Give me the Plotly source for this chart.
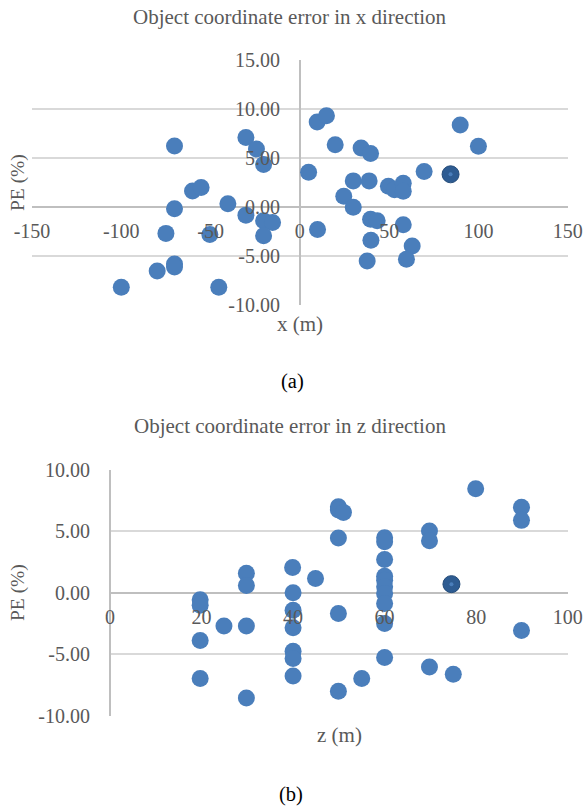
import plotly.graph_objects as go

# ---------------- data ----------------
# (a) Object coordinate error in x direction
x_a = [-70.2, -30.2, -24.3, -20.3, -60.1, -55.3, -40.3, -70.2, -30.2, -20.3,
       -15.3, -20.3, -75.0, -50.4, -79.9, -70.2, -70.2, -100.0, -45.4,
       9.7, 14.9, 19.8, 34.3, 39.6, 4.9, 29.9, 38.8, 24.6, 29.9,
       49.6, 53.0, 57.9, 57.9, 69.6, 89.8, 100.0, 9.9, 39.6, 43.3,
       57.9, 39.8, 62.9, 37.7, 59.7]
pe_a = [6.24, 7.11, 5.93, 4.34, 1.66, 2.00, 0.34, -0.17, -0.81, -1.39,
        -1.55, -2.91, -2.67, -2.78, -6.50, -5.80, -6.10, -8.16, -8.16,
        8.68, 9.32, 6.37, 6.04, 5.46, 3.56, 2.68, 2.68, 1.12, 0.00,
        2.14, 1.77, 2.44, 1.63, 3.63, 8.37, 6.20, -2.27, -1.22, -1.39,
        -1.79, -3.38, -3.96, -5.49, -5.31]
x_a_hl = [84.4]
pe_a_hl = [3.35]

# (b) Object coordinate error in z direction
z_b = [19.7, 19.7, 19.7, 19.7, 24.9, 29.8, 29.8, 29.8, 29.8,
       39.9, 40.0, 40.0, 40.0, 40.0, 40.0, 40.0,
       44.9, 49.9, 49.9, 51.0, 49.9, 49.9, 49.9, 55.0,
       60.0, 60.0, 60.0, 60.0, 60.0, 60.0, 60.0, 60.0, 60.0, 60.0,
       69.8, 69.8, 69.8, 75.0, 79.9, 89.9, 89.9, 89.9]
pe_b = [-0.57, -1.00, -3.88, -6.98, -2.69, 1.60, 0.60, -2.69, -8.56,
        2.07, 0.00, -1.41, -2.85, -4.75, -5.35, -6.76,
        1.17, 7.00, 6.74, 6.55, 4.46, -1.68, -8.01, -6.98,
        4.48, 4.16, 2.72, 1.36, 1.03, 0.49, -0.05, -0.87, -2.50, -5.27,
        5.03, 4.24, -6.03, -6.63, 8.48, 6.96, 5.90, -3.07]
z_b_hl = [74.6]
pe_b_hl = [0.71]

# tick labels
xa_ticks = [-150, -100, -50, 0, 50, 100, 150]
xa_text = ["-150", "-100", "-50", "0", "50", "100", "150"]
ya_ticks = [-10, -5, 0, 5, 10, 15]
ya_text = ["-10.00", "-5.00", "0.00", "5.00", "10.00", "15.00"]
xb_ticks = [0, 20, 40, 60, 80, 100]
xb_text = ["0", "20", "40", "60", "80", "100"]
yb_ticks = [-10, -5, 0, 5, 10]
yb_text = ["-10.00", "-5.00", "0.00", "5.00", "10.00"]

title_a = "Object coordinate error in x direction"
title_b = "Object coordinate error in z direction"

# ---------------- layout helpers ----------------
W, H = 585, 806
FONT = "Liberation Serif, Times New Roman, DejaVu Serif, serif"
GRAY = "#595959"
BLUE = "#4A7EBB"
DARK = "#2E5C92"


def px_x(p):
    return p / W


def px_y(p):
    return 1 - p / H


fig = go.Figure()

MS = 17
mk = dict(size=MS, color=BLUE, line=dict(width=0))
hl = dict(size=MS, color=DARK, line=dict(width=1, color="#264d7a"))
dot = dict(size=4, color=BLUE, line=dict(width=0))

fig.add_trace(go.Scatter(x=x_a, y=pe_a, mode="markers", marker=mk,
                         xaxis="x", yaxis="y", showlegend=False))
fig.add_trace(go.Scatter(x=x_a_hl, y=pe_a_hl, mode="markers", marker=hl,
                         xaxis="x", yaxis="y", showlegend=False))
fig.add_trace(go.Scatter(x=x_a_hl, y=pe_a_hl, mode="markers", marker=dot,
                         xaxis="x", yaxis="y", showlegend=False))

fig.add_trace(go.Scatter(x=z_b, y=pe_b, mode="markers", marker=mk,
                         xaxis="x2", yaxis="y2", showlegend=False))
fig.add_trace(go.Scatter(x=z_b_hl, y=pe_b_hl, mode="markers", marker=hl,
                         xaxis="x2", yaxis="y2", showlegend=False))
fig.add_trace(go.Scatter(x=z_b_hl, y=pe_b_hl, mode="markers", marker=dot,
                         xaxis="x2", yaxis="y2", showlegend=False))

tickfont = dict(family=FONT, size=20, color=GRAY)
GRID = "#d9d9d9"
AX = "#bfbfbf"

# plot areas (pixels)
a_left, a_right, a_top, a_bot = 32, 567.7, 60, 305.3
b_left, b_right, b_top, b_bot = 110, 567.7, 470, 715.7
a_y0 = 206.7
b_y0 = 592.7

XSO = 10
YSO = 20

common = dict(automargin=False, showline=False, ticks="", fixedrange=True,
              tickfont=tickfont)

fig.update_layout(
    template="none",
    width=W, height=H,
    margin=dict(l=0, r=0, t=0, b=0, pad=0),
    paper_bgcolor="white", plot_bgcolor="white",
    font=dict(family=FONT, color=GRAY),
    xaxis=dict(domain=[px_x(a_left), px_x(a_right)], range=[-150, 150],
               anchor="free", position=px_y(a_y0),
               tickvals=xa_ticks, ticktext=xa_text,
               showgrid=False, zeroline=True, zerolinecolor=AX, zerolinewidth=1.5,
               ticklabelstandoff=XSO, **common),
    yaxis=dict(domain=[px_y(a_bot), px_y(a_top)], range=[-10, 15],
               anchor="free", position=px_x(300),
               tickvals=ya_ticks, ticktext=ya_text,
               showgrid=True, gridcolor=GRID, gridwidth=1.5,
               zeroline=True, zerolinecolor=AX, zerolinewidth=1.5,
               ticklabelstandoff=YSO, **common),
    xaxis2=dict(domain=[px_x(b_left), px_x(b_right)], range=[0, 100],
                anchor="free", position=px_y(b_y0),
                tickvals=xb_ticks, ticktext=xb_text,
                showgrid=False, zeroline=True, zerolinecolor=AX, zerolinewidth=1.5,
                ticklabelstandoff=XSO, **common),
    yaxis2=dict(domain=[px_y(b_bot), px_y(b_top)], range=[-10, 10],
                anchor="free", position=px_x(b_left),
                tickvals=yb_ticks, ticktext=yb_text,
                showgrid=True, gridcolor=GRID, gridwidth=1.5,
                zeroline=True, zerolinecolor=AX, zerolinewidth=1.5,
                ticklabelstandoff=YSO, **common),
)

ann = []


def add_text(text, x, y, size, color=GRAY, angle=0):
    ann.append(dict(text=text, x=px_x(x), y=px_y(y), xref="paper", yref="paper",
                    showarrow=False, xanchor="center", yanchor="middle",
                    textangle=angle, font=dict(family=FONT, size=size, color=color)))


add_text(title_a, 290, 17, 21)
add_text(title_b, 290, 426, 21)
add_text("x (m)", 300, 324, 21)
add_text("z (m)", 339, 735, 21)
add_text("PE (%)", 18, 183, 19.5, angle=-90)
add_text("PE (%)", 18, 593, 19.5, angle=-90)
add_text("(a)", 292, 381, 20.5, color="black")
add_text("(b)", 291, 794, 20.5, color="black")
fig.update_layout(annotations=ann)

fig.write_html("out.html")
